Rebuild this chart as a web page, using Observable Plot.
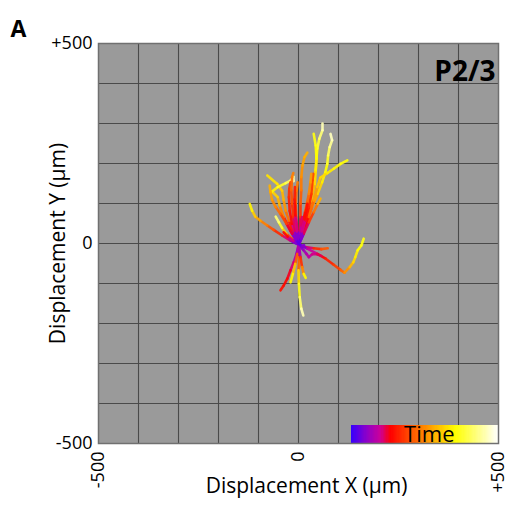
<!DOCTYPE html>
<html>
<head>
<meta charset="utf-8">
<script src="https://cdn.jsdelivr.net/npm/d3@7"></script>
<script src="https://cdn.jsdelivr.net/npm/@observablehq/plot@0.6"></script>
<style>
  html, body { margin: 0; padding: 0; background: white; }
</style>
</head>
<body>
<div id="chart"></div>
<script>
// Tick values and labels
const xTicks = [-500, 0, 500];
const xTickLabels = ["-500", "0", "+500"];
const yTicks = [-500, 0, 500];
const yTickLabels = ["-500", "0", "+500"];
const gridTicks = [-400, -300, -200, -100, 0, 100, 200, 300, 400];

// Time colour scale stops (legend)
const timeStops = [0, 0.1, 0.2, 0.27, 0.5, 0.71, 1];
const timeColors = ["#3300ff", "#8800cc", "#cc0099", "#ff0000", "#ff8800", "#ffff00", "#ffffff"];

// Cell tracks: [x µm, y µm, time (0..1)]
const trackA = [[0,0,0.02],[3,20,0.12],[10,49,0.3],[20,82,0.45],[30,120,0.55],[38,153,0.62],[43,183,0.66],[45,212,0.7],[47,237,0.74],[52,262,0.8],[60,283,0.88],[60,300,0.95]];
const trackB = [[2,2,0.03],[9,28,0.15],[20,57,0.35],[34,91,0.5],[48,124,0.6],[59,153,0.66],[67,178,0.7],[72,199,0.73],[74,220,0.78],[78,241,0.85],[84,258,0.9],[80,274,0.95]];
const trackC = [[1,2,0.05],[9,32,0.2],[20,66,0.45],[32,107,0.55],[41,149,0.62],[43,183,0.66],[45,212,0.7],[43,245,0.72],[38,274,0.74]];
const trackD = [[2,-1,0.05],[12,24,0.15],[26,66,0.4],[38,107,0.5],[47,141,0.58],[55,165,0.63],[72,176,0.66],[88,187,0.69],[105,199,0.71],[122,208,0.73]];
const trackE = [[-1,1,0.05],[3,32,0.15],[5,66,0.33],[5,99,0.4],[7,133,0.45],[7,166,0.5],[10,195,0.53],[15,216,0.56],[22,227,0.58]];
const trackF = [[-2,2,0.05],[-12,24,0.18],[-24,57,0.42],[-32,82,0.5],[-37,108,0.55],[-41,132,0.6],[-53,149,0.64],[-78,170,0.68]];
const trackG = [[-2,1,0.05],[-20,32,0.18],[-37,66,0.45],[-47,95,0.55],[-52,116,0.6],[-66,130,0.66],[-52,141,0.72],[-32,151,0.78],[-20,157,0.83],[-13,167,0.88],[-12,156,0.92]];
const trackH = [[-2,-2,0.05],[-20,7,0.14],[-41,20,0.3],[-62,34,0.38],[-78,45,0.45],[-95,57,0.52],[-108,67,0.58],[-116,82,0.66],[-122,99,0.72]];
const trackI = [[-2,2,0.05],[-16,24,0.15],[-30,49,0.35],[-45,74,0.42],[-57,91,0.48],[-66,109,0.52],[-70,128,0.56],[-72,145,0.58]];
const trackJ = [[-1,1,0.05],[-7,24,0.14],[-16,49,0.26],[-22,82,0.3],[-24,116,0.33],[-23,137,0.36],[-20,153,0.38]];
const trackK = [[2,1,0.05],[9,28,0.14],[17,57,0.27],[26,91,0.32],[32,124,0.36],[35,158,0.38],[37,174,0.4]];
const trackL = [[0,1,0.05],[-3,32,0.15],[-6,66,0.33],[-7,99,0.4],[-5,132,0.46],[-2,153,0.5]];
const trackM = [[2,1,0.05],[13,24,0.14],[26,53,0.32],[38,78,0.42],[48,99,0.52],[55,112,0.62]];
const trackN = [[0,-1,0.05],[17,-9,0.14],[38,-12,0.3],[57,-14,0.38],[73,-12,0.45]];
const trackO = [[1,-2,0.05],[22,-13,0.14],[47,-26,0.25],[68,-38,0.3],[88,-53,0.35],[105,-66,0.4],[115,-73,0.48],[128,-59,0.55],[137,-47,0.62],[142,-34,0.66],[148,-17,0.7],[157,-5,0.72],[163,12,0.74]];
const trackP = [[0,-2,0.05],[12,-16,0.12],[20,-26,0.16],[26,-34,0.18],[34,-27,0.2],[47,-27,0.22],[57,-31,0.24]];
const trackQ = [[0,-5,0.05],[-5,-26,0.15],[-12,-47,0.2],[-20,-67,0.24],[-28,-88,0.27],[-37,-105,0.29],[-45,-117,0.3]];
const trackR = [[2,-5,0.05],[2,-34,0.3],[0,-67,0.6],[1,-101,0.7],[3,-134,0.78],[7,-163,0.88],[12,-180,0.95]];
const trackS = [[0,-2,0.05],[-3,-26,0.3],[-8,-51,0.55],[-14,-76,0.65],[-20,-97,0.75]];
const trackT = [[1,-5,0.05],[5,-34,0.25],[9,-59,0.45],[13,-76,0.55],[18,-86,0.85]];
const trackU = [[-2,-1,0.05],[-16,12,0.25],[-30,24,0.55],[-41,39,0.7],[-49,53,0.8],[-57,67,0.88]];
const trackV = [[-1,1,0.05],[-9,32,0.15],[-13,66,0.32],[-16,99,0.38],[-18,133,0.42],[-16,166,0.47],[-13,176,0.5]];
const trackW = [[2,1,0.05],[9,41,0.18],[17,82,0.4],[26,124,0.48],[30,153,0.52],[32,174,0.55]];
const trackX = [[1,1,0.05],[5,24,0.15],[7,45,0.2],[9,66,0.25]];
const trackY = [[0,-1,0.05],[-12,3,0.1],[-22,12,0.15]];
const trackZ = [[-1,-1,0.05],[-13,7,0.16],[-27,17,0.26],[-37,28,0.3]];
const trackAC = [[0,0,0.04],[-4,30,0.16],[-8,70,0.26],[-10,110,0.3],[-9,141,0.33]];
const trackAD = [[1,0,0.04],[8,30,0.16],[15,60,0.26],[22,99,0.32]];
const trackAE = [[0,0,0.02],[8,-8,0.08],[14,-4,0.12]];
const trackAF = [[0,0,0.02],[-6,10,0.08],[-4,22,0.12]];
const trackAG = [[0,0,0.02],[6,12,0.08],[10,20,0.12]];

const tracks = [trackA, trackB, trackC, trackD, trackE, trackF, trackG, trackH, trackI, trackJ,
  trackK, trackL, trackM, trackN, trackO, trackP, trackQ, trackR, trackS, trackT,
  trackU, trackV, trackW, trackX, trackY, trackZ, trackAC, trackAD, trackAE, trackAF, trackAG];

// Build segments from the track points
const segs = [];
tracks.forEach((tr, k) => {
  for (let i = 1; i < tr.length; i++) {
    segs.push({x1: tr[i-1][0], y1: tr[i-1][1], x2: tr[i][0], y2: tr[i][1], t: (tr[i-1][2] + tr[i][2]) / 2, k});
  }
});

// Legend colour bar steps (drawn inside the frame, bottom-right)
const legendX0 = 132, legendX1 = 500, legendY0 = -500, legendY1 = -455;
const nSteps = 120;
const legendCells = d3.range(nSteps).map(i => ({
  x1: legendX0 + (legendX1 - legendX0) * i / nSteps,
  x2: Math.min(legendX1, legendX0 + (legendX1 - legendX0) * (i + 1) / nSteps + 4),
  t: (i + 0.5) / nSteps
}));

const xLab = new Map(xTicks.map((d, i) => [d, xTickLabels[i]]));
const yLab = new Map(yTicks.map((d, i) => [d, yTickLabels[i]]));

const chart = Plot.plot({
  width: 507,
  height: 515,
  marginLeft: 98,
  marginRight: 9,
  marginTop: 43,
  marginBottom: 72,
  style: {fontFamily: "'Open Sans', sans-serif", fontSize: "18px", background: "white", color: "black"},
  x: {domain: [-500, 500], ticks: xTicks, tickFormat: d => xLab.get(d), tickRotate: -90, tickSize: 0, tickPadding: 8, label: null},
  y: {domain: [-500, 500], ticks: yTicks, tickFormat: d => yLab.get(d), tickSize: 0, tickPadding: 6, label: null},
  color: {type: "linear", domain: timeStops, range: timeColors, interpolate: "rgb"},
  marks: [
    Plot.frame({fill: "#9a9a9a"}),
    Plot.ruleX(gridTicks, {stroke: "#4a4a4a", strokeWidth: 1.1}),
    Plot.ruleY(gridTicks, {stroke: "#4a4a4a", strokeWidth: 1.1}),
    Plot.link(segs, {x1: "x1", y1: "y1", x2: "x2", y2: "y2", stroke: "t", strokeWidth: 2.6, strokeLinecap: "round", strokeOpacity: 0.92}),
    Plot.rect(legendCells, {x1: "x1", x2: "x2", y1: legendY0, y2: legendY1, fill: "t", shapeRendering: "crispEdges"}),
    Plot.text(["Time"], {x: 327, y: -479, text: d => d, fontSize: 22, fill: "black"}),
    Plot.frame({stroke: "#707070", strokeWidth: 1.5}),
    Plot.text(["P2/3"], {frameAnchor: "top-right", dx: -3, dy: 18, text: d => d, textAnchor: "end", fontSize: 28, fontWeight: "bold", fill: "black"}),
    Plot.text(["A"], {frameAnchor: "top-left", dx: -88, dy: -23, text: d => d, textAnchor: "start", fontSize: 23, fontWeight: "bold", fill: "black"}),
    Plot.text(["Displacement X (µm)"], {frameAnchor: "bottom", dx: 8, dy: 49, text: d => d, textAnchor: "middle", fontSize: 21, fill: "black"}),
    Plot.text(["Displacement Y (µm)"], {frameAnchor: "left", dx: -40, text: d => d, textAnchor: "middle", rotate: -90, fontSize: 21, fill: "black"})
  ]
});

document.getElementById("chart").appendChild(chart);
</script>
</body>
</html>
